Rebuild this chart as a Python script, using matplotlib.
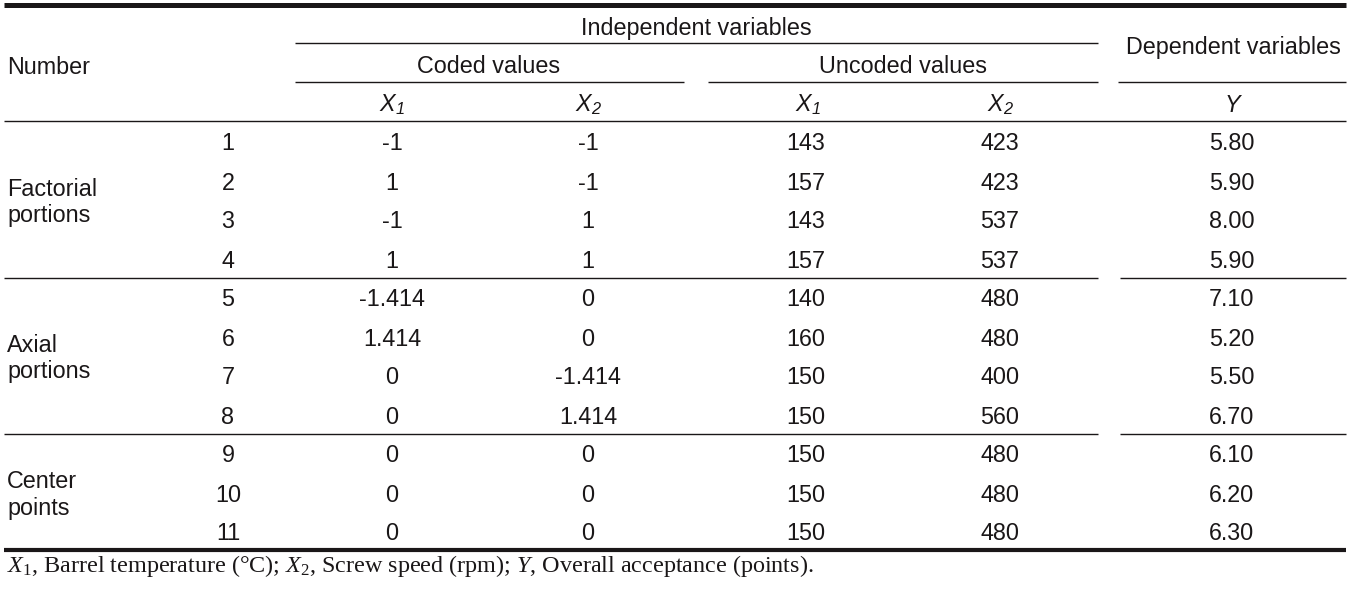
import matplotlib
matplotlib.use("Agg")
import matplotlib.pyplot as plt

plt.rcParams['mathtext.fontset'] = 'custom'
plt.rcParams['mathtext.rm'] = 'Liberation Serif'
plt.rcParams['mathtext.it'] = 'Liberation Serif:italic'
plt.rcParams['mathtext.sf'] = 'Liberation Sans:italic'

# ---- data ----
numbers = ['1', '2', '3', '4', '5', '6', '7', '8', '9', '10', '11']
coded_x1 = ['-1', '1', '-1', '1', '-1.414', '1.414', '0', '0', '0', '0', '0']
coded_x2 = ['-1', '-1', '1', '1', '0', '0', '-1.414', '1.414', '0', '0', '0']
uncoded_x1 = ['143', '157', '143', '157', '140', '160', '150', '150', '150', '150', '150']
uncoded_x2 = ['423', '423', '537', '537', '480', '480', '400', '560', '480', '480', '480']
y_values = ['5.80', '5.90', '8.00', '5.90', '7.10', '5.20', '5.50', '6.70', '6.10', '6.20', '6.30']
groups = ['Factorial\nportions', 'Axial\nportions', 'Center\npoints']
group_rows = [(0, 3), (4, 7), (8, 10)]
footnote = (r'$X_{\mathit{1}}$, Barrel temperature (°C); $X_{\mathit{2}}$, Screw speed (rpm); '
            r'$Y$, Overall acceptance (points).')

# ---- layout ----
W, H = 1354, 589
fig = plt.figure(figsize=(W / 100, H / 100), dpi=100)
ax = fig.add_axes([0, 0, 1, 1])
ax.set_xlim(0, W)
ax.set_ylim(H, 0)
ax.axis('off')

TC = '#1a1718'
FS = 16.8
SANS = 'Liberation Sans'

def t(x, y, s, ha='center', **kw):
    ax.text(x, y, s, ha=ha, va='center', fontsize=kw.pop('fontsize', FS),
            family=kw.pop('family', SANS), color=TC, **kw)

def hline(y, x0, x1, lw):
    ax.plot([x0, x1], [y, y], color=TC, lw=lw, solid_capstyle='butt')

L, R = 4, 1346
hline(4.5, L, R, 3.6)
hline(549.5, L, R, 3.0)
hline(43, 295, 1098, 1.0)
hline(82, 295, 684, 1.0)
hline(82, 708, 1098, 1.0)
hline(82, 1118, R, 1.0)
hline(121, L, R, 1.0)
for yy in (277.5, 433.5):
    hline(yy, L, 1098, 1.0)
    hline(yy, 1120, R, 1.0)

# headers
t(696, 28, 'Independent variables')
t(489, 66.5, 'Coded values')
t(903, 66.5, 'Uncoded values')
t(7, 67, 'Number', ha='left')
t(1233, 47.5, 'Dependent variables')
for xc, sub in [(392, '1'), (589, '2'), (808, '1'), (1001, '2')]:
    t(xc, 105, r'$\mathsf{X}_{\mathsf{' + sub + '}}$')
t(1233, 105, r'$\mathsf{Y}$')

col_x = [228, 392, 588, 806, 1000, 1232]
row_y0, row_dy = 144, 39
for i in range(len(numbers)):
    y = row_y0 + i * row_dy
    for xc, col in zip(col_x, [numbers, coded_x1, coded_x2, uncoded_x1, uncoded_x2, y_values]):
        t(xc, y, col[i])

for g, (a, b) in zip(groups, group_rows):
    yc = row_y0 + (a + b) / 2 * row_dy
    ax.text(7, yc, g, ha='left', va='center', fontsize=FS, family=SANS, color=TC,
            linespacing=1.2)

ax.text(7, 566, footnote, ha='left', va='center', fontsize=17.4, family='Liberation Serif', color=TC)

fig.savefig('out.png', dpi=100)
